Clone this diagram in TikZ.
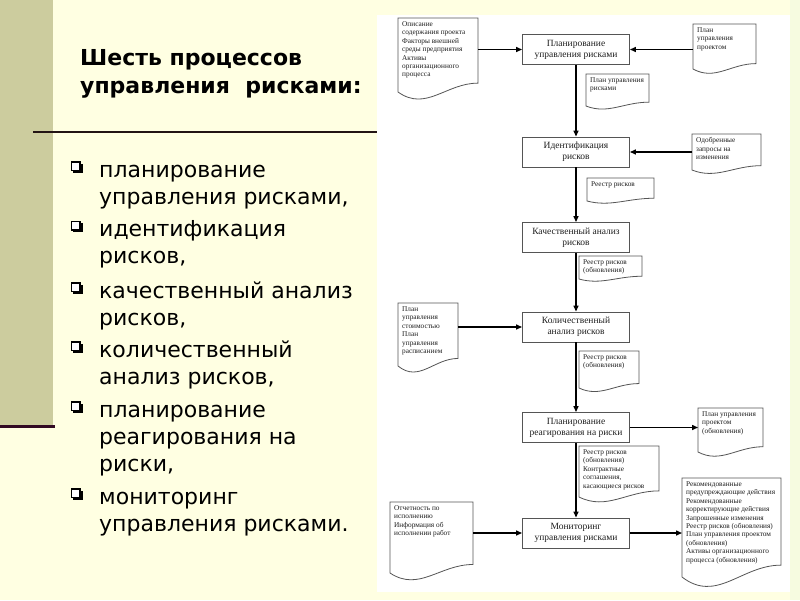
\documentclass[tikz,border=0pt]{standalone}
\usepackage{fontspec}
\setmainfont{DejaVu Sans}
\newfontfamily\dsf{Liberation Serif}
\usetikzlibrary{calc,arrows.meta}
\definecolor{bgc}{RGB}{255,255,226}
\definecolor{stripc}{RGB}{204,204,158}
\definecolor{darkp}{RGB}{50,10,35}
\definecolor{rulec}{RGB}{35,20,20}
\definecolor{rightc}{RGB}{246,251,224}
\definecolor{linegray}{RGB}{85,85,85}
\definecolor{txtc}{RGB}{30,30,30}
\tikzset{
  docn/.style={draw=none, inner sep=0, outer sep=0},
  docline/.style={draw=linegray, line width=0.8pt, fill=white},
  doctext/.style={inner sep=0, align=left, text=txtc, font=\dsf\fontsize{7.3}{8.4}\selectfont},
  procbox/.style={draw=linegray, line width=0.9pt, fill=white, minimum width=107pt, minimum height=30pt, inner sep=1pt, align=center, text=txtc, font=\dsf\fontsize{9.5}{11}\selectfont},
  arr/.style={draw=black, line width=1.4pt, -{Triangle[length=6pt,width=5pt]}},
  bultext/.style={anchor=base west, inner sep=0, font=\fontsize{22}{26}\selectfont, text=black},
  titletext/.style={anchor=base west, inner sep=0, font=\bfseries\fontsize{22}{26}\selectfont, text=black}
}
% name, x0, y0, x1, yb, text
\newcommand{\docshape}[6]{%
  \pgfmathsetmacro{\dw}{#4-#2}\pgfmathsetmacro{\dh}{#5-#3}%
  \node[docn, minimum width=\dw pt, minimum height=\dh pt, anchor=north west] (#1) at (#2,#3) {};
  \draw[docline] (#2,#3) -- (#4,#3) -- (#4,#5-0.12*\dh) .. controls (#2+0.6*\dw,#5-0.12*\dh) and (#2+0.35*\dw,#5+0.27*\dh) .. (#2,#5) -- cycle;
  \node[doctext, anchor=north west] (#1t) at (#2+4,#3+3.5) {#6};
}
\newcommand{\bul}[1]{%
  \fill[black] (73,#1-13.5) rectangle (82.5,#1-4.5);
  \draw[black, line width=1.1pt, fill=white] (71.5,#1-15) rectangle (80,#1-6.5);
}
\begin{document}
\begin{tikzpicture}[x=1pt,y=-1pt]
\useasboundingbox (0,0) rectangle (800,600);
\fill[bgc] (0,0) rectangle (800,600);
\fill[rightc] (790,0) rectangle (800,600);
\fill[stripc] (0,0) rectangle (53,425);
\draw[darkp, line width=3pt] (0,426.5) -- (55,426.5);
\draw[rulec, line width=2pt] (33,132) -- (380,132);
\fill[white] (377,15) rectangle (790,592);

% title
\node[titletext] (t1) at (80,65) {Шесть процессов};
\node[titletext] (t2) at (80,93) {управления\ \ рисками:};

% bullets
\bul{177}\bul{236.5}\bul{298}\bul{357}\bul{417}\bul{504}
\node[bultext] (l1) at (99,177) {планирование};
\node[bultext] (l2) at (99,204) {управления рисками,};
\node[bultext] (l3) at (99,236.5) {идентификация};
\node[bultext] (l4) at (99,263) {рисков,};
\node[bultext] (l5) at (99,298) {качественный анализ};
\node[bultext] (l6) at (99,325) {рисков,};
\node[bultext] (l7) at (99,357) {количественный};
\node[bultext] (l8) at (99,384) {анализ рисков,};
\node[bultext] (l9) at (99,417) {планирование};
\node[bultext] (l10) at (99,444) {реагирования на};
\node[bultext] (l11) at (99,471) {риски,};
\node[bultext] (l12) at (99,504) {мониторинг};
\node[bultext] (l13) at (99,531) {управления рисками.};

% process boxes
\node[procbox] (b1) at (576,49.5) {Планирование\\управления рисками};
\node[procbox] (b2) at (576,152) {Идентификация\\рисков};
\node[procbox] (b3) at (576,237.5) {Качественный анализ\\рисков};
\node[procbox] (b4) at (576,327) {Количественный\\анализ рисков};
\node[procbox] (b5) at (576,427.5) {Планирование\\реагирования на риски};
\node[procbox] (b6) at (576,533) {Мониторинг\\управления рисками};

% documents
\docshape{d1}{398}{18}{478}{92}{Описание\\содержания проекта\\Факторы внешней\\среды предприятия\\Активы\\организационного\\процесса}
\docshape{d2}{693}{24}{756}{69}{План\\управления\\проектом}
\docshape{d3}{586}{74}{649}{106}{План управления\\рисками}
\docshape{d4}{692}{134}{761}{170}{Одобренные\\запросы на\\изменения}
\docshape{d5}{587}{178}{654}{201}{Реестр рисков}
\docshape{d6}{579}{256}{642}{279}{Реестр рисков\\(обновления)}
\docshape{d7}{398}{303}{458}{366}{План\\управления\\стоимостью\\План\\управления\\расписанием}
\docshape{d8}{579}{351}{639}{388}{Реестр рисков\\(обновления)}
\docshape{d9}{698}{408}{763}{452}{План управления\\проектом\\(обновления)}
\docshape{d10}{579}{446}{659}{497}{Реестр рисков\\(обновления)\\Контрактные\\соглашения,\\касающиеся рисков}
\docshape{d11}{390}{502}{473}{573}{Отчетность по\\исполнению\\Информация об\\исполнении работ}
\docshape{d12}{682}{478}{781}{577}{Рекомендованные\\предупреждающие действия\\Рекомендованные\\корректирующие действия\\Запрошенные изменения\\Реестр рисков (обновления)\\План управления проектом\\(обновления)\\Активы организационного\\процесса (обновления)}

% spine
\draw[arr] (b1.south) -- (b2.north);
\draw[arr] (b2.south) -- (b3.north);
\draw[arr] (b3.south) -- (b4.north);
\draw[arr] (b4.south) -- (b5.north);
\draw[arr] (b5.south) -- (b6.north);

% side connectors
\draw[arr] (d1.east |- b1.west) -- (b1.west);
\draw[arr] (d2.west |- b1.east) -- (b1.east);
\draw[arr] (d4.west |- b2.east) -- (b2.east);
\draw[arr] (d7.east |- b4.west) -- (b4.west);
\draw[arr] (b5.east) -- (d9.west |- b5.east);
\draw[arr] (d11.east |- b6.west) -- (b6.west);
\draw[arr] (b6.east) -- (d12.west |- b6.east);
\end{tikzpicture}
\end{document}
